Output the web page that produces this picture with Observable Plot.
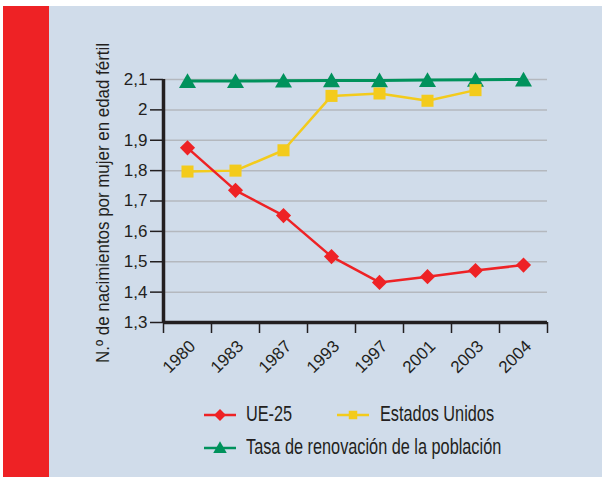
<!DOCTYPE html>
<html>
<head>
<meta charset="utf-8">
<script src="https://cdn.jsdelivr.net/npm/d3@7"></script>
<script src="https://cdn.jsdelivr.net/npm/@observablehq/plot@0.6"></script>
<style>
  html, body { margin: 0; padding: 0; background: #ffffff; }
  #wrap { position: relative; width: 602px; height: 477px; overflow: hidden; background: #ffffff; }
  #redbar { position: absolute; left: 3px; top: 6px; width: 46px; height: 471px; background: #ee2225; }
  #panel { position: absolute; left: 49px; top: 6px; width: 553px; height: 471px; background: #d0dcea; }
  #chart { position: absolute; left: 0; top: 0; }
  .leg { position: absolute; font-family: "Liberation Sans", Arial, sans-serif; font-size: 22px; color: #231f20; white-space: nowrap; line-height: 1; transform: scaleX(0.74); transform-origin: 0 50%; }
  .sw { position: absolute; }
</style>
</head>
<body>
<div id="wrap">
  <div id="redbar"></div>
  <div id="panel"></div>
  <div id="chart"></div>
  <div id="legend"></div>
</div>
<script>
// ---- data ----
const years = ["1980", "1983", "1987", "1993", "1997", "2001", "2003", "2004"];
const ue25 = [1.875, 1.735, 1.652, 1.517, 1.432, 1.451, 1.471, 1.489];
const estadosUnidos = [1.797, 1.800, 1.867, 2.046, 2.054, 2.030, 2.065, null];
const tasaRenovacion = [2.095, 2.095, 2.096, 2.097, 2.097, 2.098, 2.099, 2.100];
const yTicks = [1.3, 1.4, 1.5, 1.6, 1.7, 1.8, 1.9, 2.0, 2.1];
const yTickLabels = ["1,3", "1,4", "1,5", "1,6", "1,7", "1,8", "1,9", "2", "2,1"];
const yTitle = "N.º de nacimientos por mujer en edad fértil";
const seriesNames = ["UE-25", "Estados Unidos", "Tasa de renovación de la población"];

const colors = {red: "#ee2225", yellow: "#f3cb1c", green: "#00925c", ink: "#231f20", grid: "#b4b8be"};

const toRows = (vals) => vals.map((v, i) => ({i, year: years[i], value: v})).filter(d => d.value != null);
const rowsUE = toRows(ue25);
const rowsUS = toRows(estadosUnidos);
const rowsTR = toRows(tasaRenovacion);
const centers = years.map((_, i) => i);
const edges = d3.range(years.length + 1).map(i => i - 0.5);

const tickFont = '"Liberation Sans", Arial, sans-serif';

const chart = Plot.plot({
  width: 602,
  height: 390,
  marginLeft: 163,
  marginRight: 55,
  marginTop: 79,
  marginBottom: 68,
  style: {background: "transparent", color: colors.ink, fontFamily: tickFont, fontSize: "17px", overflow: "visible"},
  x: {type: "linear", domain: [-0.5, years.length - 0.5], axis: null},
  y: {domain: [1.3, 2.1], axis: null},
  marks: [
    Plot.gridY(yTicks, {stroke: colors.grid, strokeOpacity: 1, strokeWidth: 1.5}),
    Plot.axisY(yTicks, {label: null, tickFormat: (d, i) => yTickLabels[i], tickSize: 13, tickPadding: 3, strokeWidth: 1.5, stroke: colors.ink, fill: colors.ink, fontSize: 17, fontFamily: tickFont}),
    Plot.axisX(edges, {label: null, tickFormat: () => "", tickSize: 11, strokeWidth: 1.5, stroke: colors.ink}),
    Plot.axisX(centers, {label: null, tickFormat: (i) => years[i], tickSize: 0, tickRotate: -45, textAnchor: "end", tickPadding: 12, dx: 5, dy: 9, fill: colors.ink, fontSize: 17, fontFamily: tickFont}),
    Plot.ruleY([1.3], {stroke: colors.ink, strokeWidth: 3.5}),
    Plot.ruleX([-0.5], {y1: 1.3, y2: 2.1, stroke: colors.ink, strokeWidth: 3.5}),
    Plot.text([yTitle], {className: "ytitle", frameAnchor: "left", rotate: -90, dx: -55, dy: 2, lineAnchor: "bottom", textAnchor: "middle", fontSize: 19, fill: colors.ink, fontFamily: tickFont}),
    Plot.line(rowsTR, {x: "i", y: "value", stroke: colors.green, strokeWidth: 3}),
    Plot.dot(rowsTR, {x: "i", y: "value", symbol: "triangle", r: 6.3, fill: colors.green, stroke: "none", dy: 2}),
    Plot.line(rowsUS, {x: "i", y: "value", stroke: colors.yellow, strokeWidth: 2.5}),
    Plot.dot(rowsUS, {x: "i", y: "value", symbol: "square", r: 6.8, fill: colors.yellow, stroke: "none"}),
    Plot.line(rowsUE, {x: "i", y: "value", stroke: colors.red, strokeWidth: 2.5}),
    Plot.dot(rowsUE, {x: "i", y: "value", symbol: "diamond2", r: 6.8, fill: colors.red, stroke: "none"})
  ]
});
document.getElementById("chart").appendChild(chart);
// condense the y title to the reference's narrow typeface width
d3.select(chart).selectAll(".ytitle text").attr("textLength", 320).attr("lengthAdjust", "spacingAndGlyphs");

// ---- legend ----
const legend = document.getElementById("legend");
const items = [
  {name: seriesNames[0], color: colors.red, shape: "diamond", sx: 204, cy: 415, tx: 246},
  {name: seriesNames[1], color: colors.yellow, shape: "square", sx: 337, cy: 415, tx: 380},
  {name: seriesNames[2], color: colors.green, shape: "triangle", sx: 204, cy: 448, tx: 246}
];
for (const it of items) {
  const svg = d3.create("svg").attr("width", 32).attr("height", 20)
    .attr("class", "sw")
    .style("left", it.sx + "px").style("top", (it.cy - 10) + "px");
  svg.append("line").attr("x1", 0).attr("x2", 32).attr("y1", 10).attr("y2", 10)
    .attr("stroke", it.color).attr("stroke-width", 2.5);
  let path;
  if (it.shape === "diamond") path = d3.symbol(d3.symbolDiamond2, 90)();
  else if (it.shape === "square") path = d3.symbol(d3.symbolSquare, 72)();
  else path = d3.symbol(d3.symbolTriangle, 80)();
  svg.append("path").attr("d", path).attr("transform", `translate(16,${it.shape === "triangle" ? 11 : 10})`).attr("fill", it.color);
  legend.appendChild(svg.node());
  const t = document.createElement("div");
  t.className = "leg";
  t.textContent = it.name;
  t.style.left = it.tx + "px";
  t.style.top = (it.cy - 12) + "px";
  legend.appendChild(t);
}
</script>
</body>
</html>
